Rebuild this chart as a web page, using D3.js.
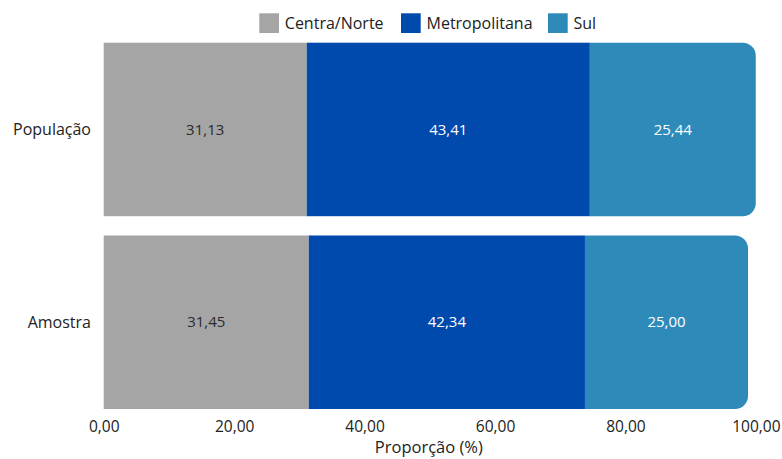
<!DOCTYPE html>
<html>
<head>
<meta charset="utf-8">
<script src="https://cdn.jsdelivr.net/npm/d3@7"></script>
<style>
  html, body { margin: 0; padding: 0; background: #fff; }
  svg { display: block; font-family: "Open Sans", sans-serif; }
</style>
</head>
<body>
<svg id="chart" width="782" height="459"></svg>
<script>
// Stacked shares by region
const groups = ["População", "Amostra"];
const regions = ["Centra/Norte", "Metropolitana", "Sul"];
const centraNorte = [31.13, 31.45];
const metropolitana = [43.41, 42.34];
const sul = [25.44, 25.00];
const xTicks = [0, 20, 40, 60, 80, 100];
const xTitle = "Proporção (%)";

const colors = ["#a5a5a5", "#004aad", "#2e8bb9"];
const textColors = ["#2b2b2b", "#ffffff", "#ffffff"];

const svg = d3.select("#chart");

const x = d3.scaleLinear().domain([0, 100]).range([103.7, 755.9]);
const y = d3.scaleBand().domain(groups).range([42.7, 409]).paddingInner(0.1).paddingOuter(0);

const rows = groups.map((g, i) => ({
  group: g,
  "Centra/Norte": centraNorte[i],
  "Metropolitana": metropolitana[i],
  "Sul": sul[i]
}));
const stacked = d3.stack().keys(regions)(rows);

const fmt = v => v.toFixed(2).replace(".", ",");
const r = 13;

// path for a segment with rounded right corners (last segment)
function roundedRight(x0, y0, w, h, rad) {
  return `M${x0},${y0}H${x0 + w - rad}A${rad},${rad} 0 0 1 ${x0 + w},${y0 + rad}` +
    `V${y0 + h - rad}A${rad},${rad} 0 0 1 ${x0 + w - rad},${y0 + h}H${x0}Z`;
}

stacked.forEach((layer, li) => {
  const g = svg.append("g");
  layer.forEach((d, i) => {
    const x0 = x(d[0]), x1 = x(d[1]);
    const yy = y(groups[i]), h = y.bandwidth();
    if (li === regions.length - 1) {
      g.append("path").attr("d", roundedRight(x0, yy, x1 - x0, h, r)).attr("fill", colors[li]);
    } else {
      g.append("rect").attr("x", x0).attr("y", yy).attr("width", x1 - x0).attr("height", h).attr("fill", colors[li]);
    }
    g.append("text")
      .attr("x", (x0 + x1) / 2)
      .attr("y", yy + h / 2)
      .attr("dy", "0.35em")
      .attr("text-anchor", "middle")
      .attr("font-size", 15)
      .attr("fill", textColors[li])
      .text(fmt(d.data[regions[li]]));
  });
});

// category labels
svg.append("g").selectAll("text").data(groups).join("text")
  .attr("x", 91)
  .attr("y", d => y(d) + y.bandwidth() / 2)
  .attr("dy", "0.35em")
  .attr("text-anchor", "end")
  .attr("font-size", 16)
  .attr("fill", "#222")
  .text(d => d);

// x axis
const xAxis = d3.axisBottom(x).tickValues(xTicks).tickFormat(fmt).tickSize(0).tickPadding(0);
const ax = svg.append("g").attr("transform", "translate(0,420.5)").call(xAxis);
ax.select(".domain").remove();
ax.selectAll("text")
  .attr("font-family", "'Open Sans', sans-serif")
  .attr("font-size", 15.5)
  .attr("fill", "#222");

svg.append("text")
  .attr("x", (x(0) + x(100)) / 2 - 1)
  .attr("y", 453)
  .attr("text-anchor", "middle")
  .attr("font-size", 16.5)
  .attr("fill", "#222")
  .text(xTitle);

// legend
const legendX = [259.3, 401, 548];
const lg = svg.append("g").selectAll("g").data(regions).join("g")
  .attr("transform", (d, i) => `translate(${legendX[i]},13.3)`);
lg.append("rect").attr("width", 19.7).attr("height", 19.7).attr("fill", (d, i) => colors[i]);
lg.append("text")
  .attr("x", 25.5)
  .attr("y", 10)
  .attr("dy", "0.35em")
  .attr("font-size", 16)
  .attr("fill", "#222")
  .text(d => d);
</script>
</body>
</html>
